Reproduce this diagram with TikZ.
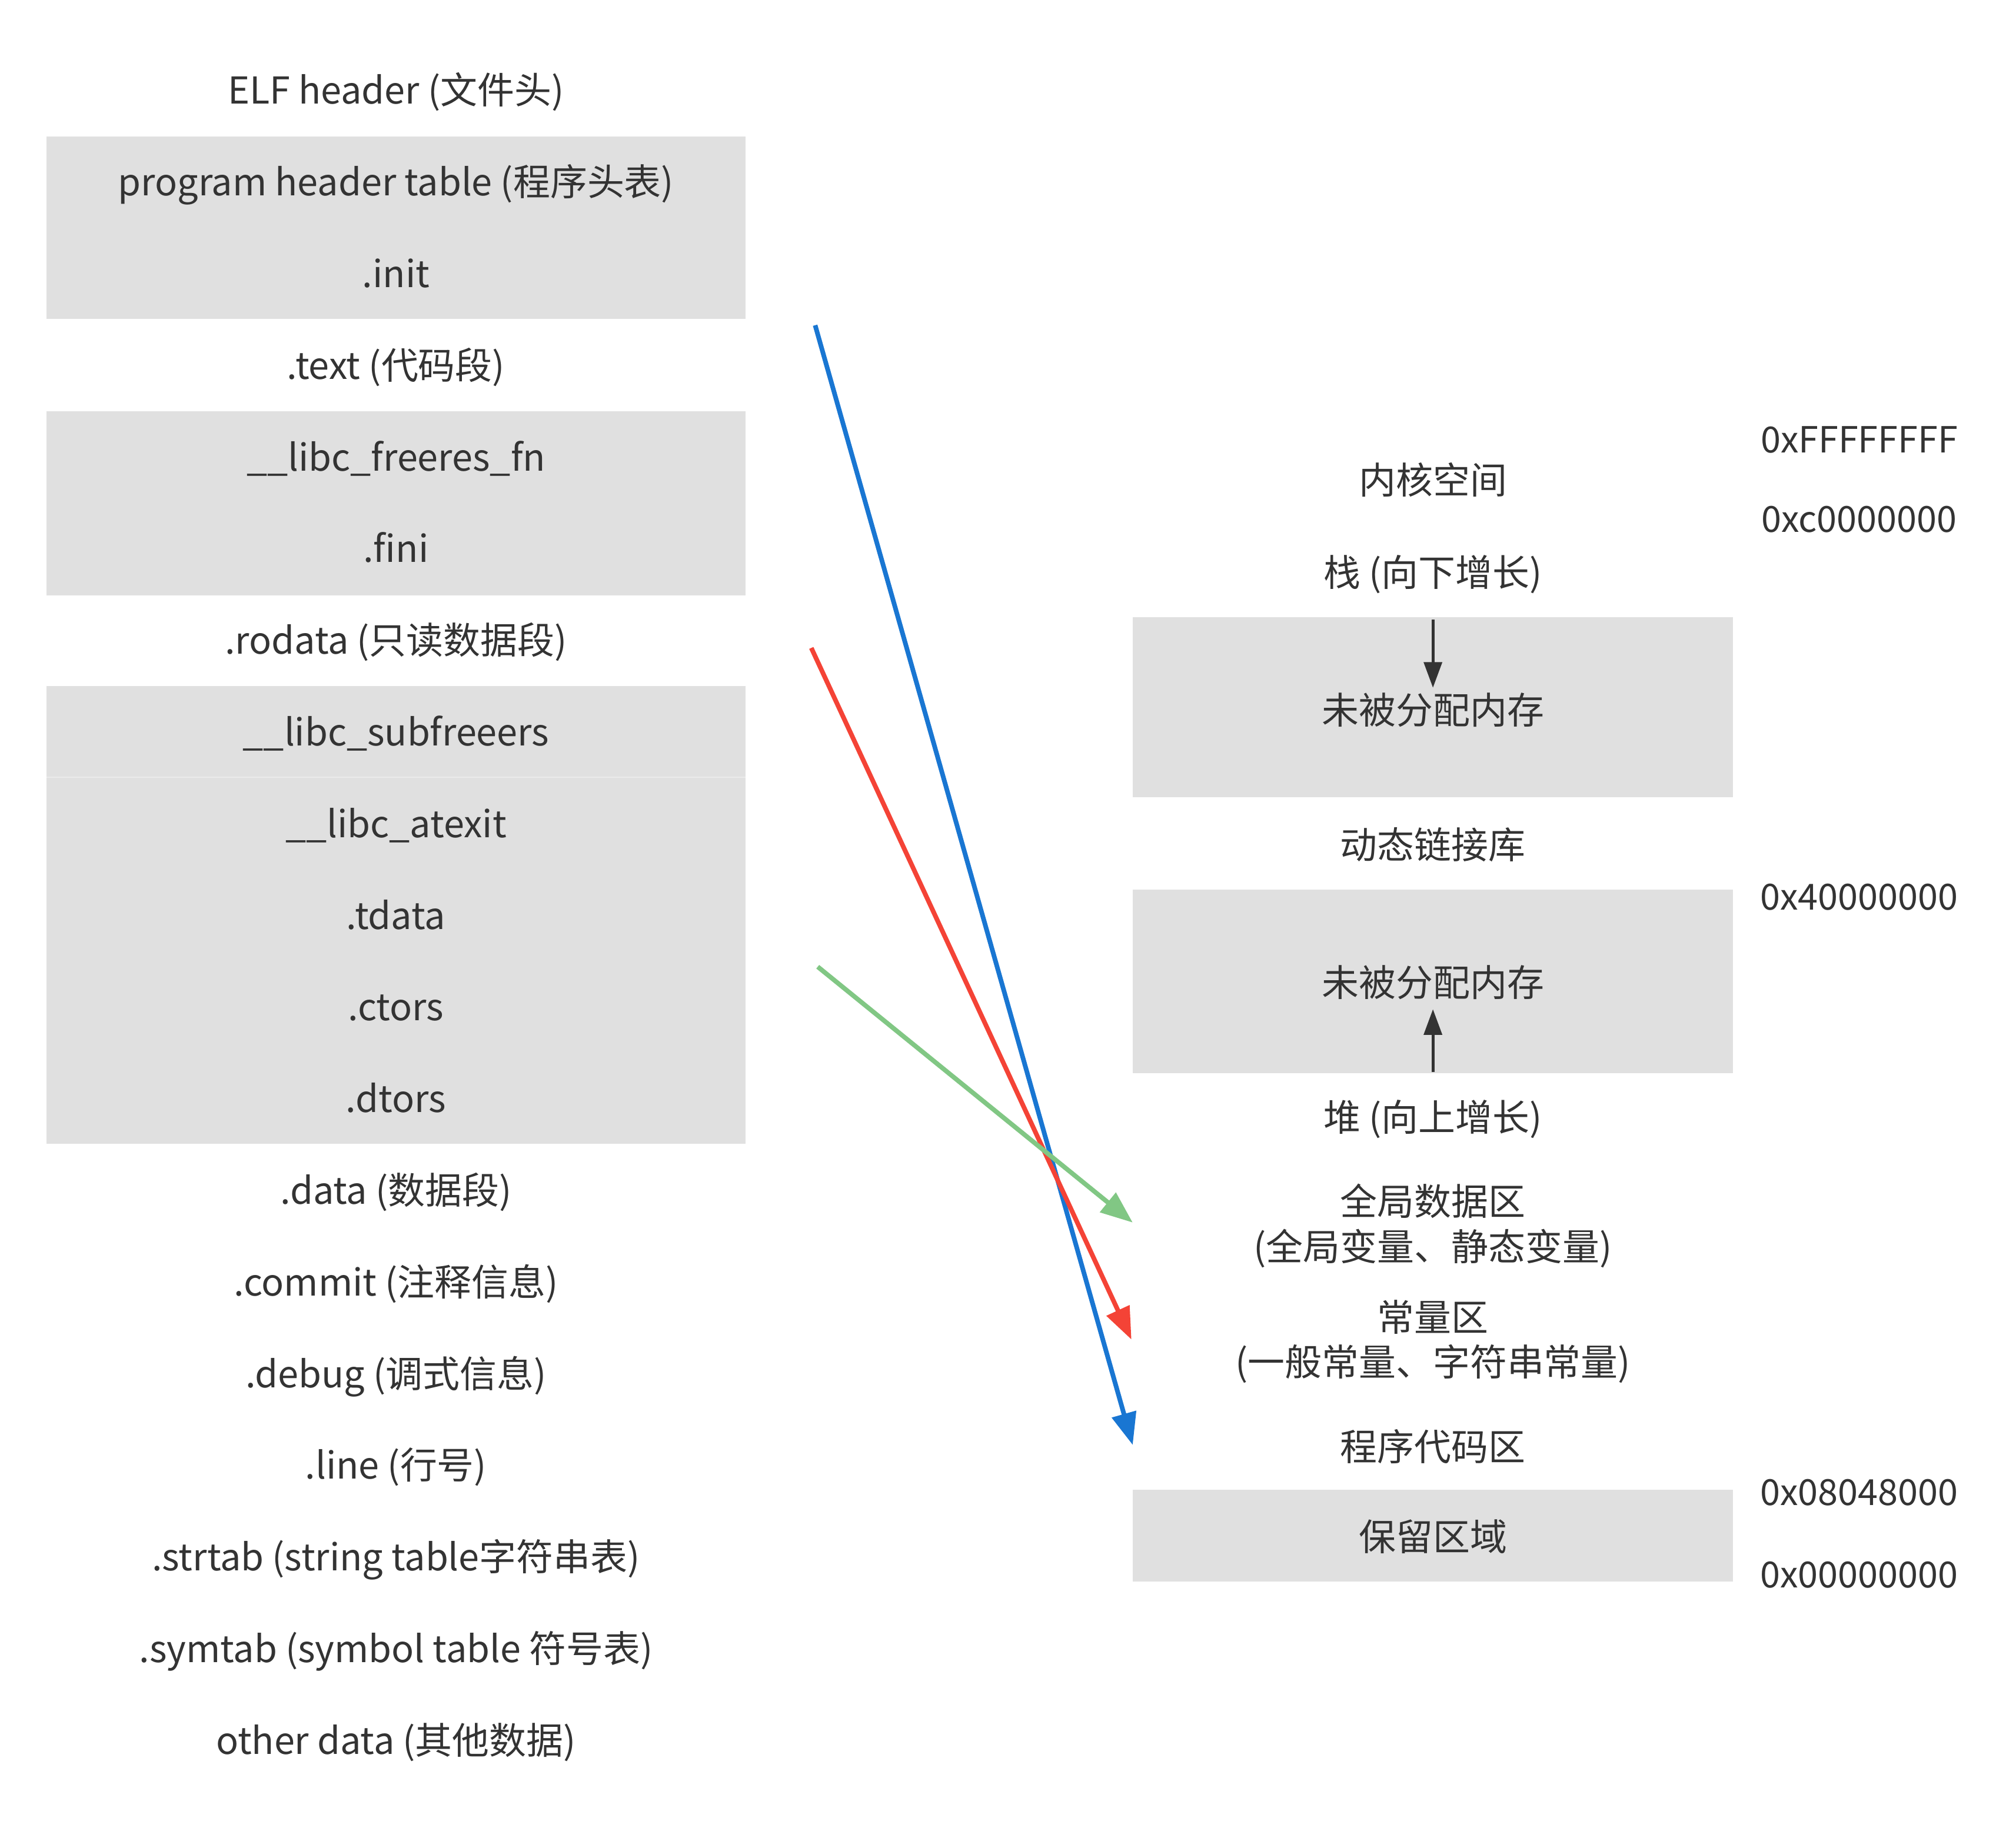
\documentclass[tikz,border=0pt]{standalone}
\usepackage{fontspec}
\setmainfont{Noto Sans CJK SC}
\usetikzlibrary{arrows.meta}
\definecolor{txt}{HTML}{333333}
\definecolor{boxgray}{HTML}{E0E0E0}
\definecolor{sepgray}{HTML}{EBEBEB}
\definecolor{ablue}{HTML}{1976D2}
\definecolor{ared}{HTML}{F44336}
\definecolor{agreen}{HTML}{81C784}
\begin{document}
\begin{tikzpicture}[x=1pt,y=-1pt,
  lbl/.style={text=txt,font=\fontsize{28.8}{35}\selectfont,inner sep=0pt,text height=27.5pt,text depth=7.5pt},
  hex/.style={lbl,font=\fontsize{28}{35}\selectfont},
  lbl2/.style={text=txt,font=\fontsize{28.8}{35}\selectfont,inner sep=0pt,align=center},
  rcol/.style={minimum width=467pt},
  segbox/.style={fill=boxgray},
  maparrow/.style={line width=3.6pt,-{Triangle[length=25pt,width=19pt]}},
  growarrow/.style={draw=txt,line width=2.4pt,-{Triangle[length=20pt,width=14pt]},color=txt}]
\useasboundingbox (0,0) rectangle (1568,1424);
% left boxes
\fill[segbox] (36,106) rectangle (580,248);
\fill[segbox] (36,320) rectangle (580,463);
\fill[segbox] (36,533.5) rectangle (580,889.6);
\draw[sepgray,line width=0.8pt] (36,604.5) -- (580,604.5);
% left labels
\node[lbl] (elf)    at (308,71)    {ELF header (文件头)};
\node[lbl] (pht)    at (308,142.3) {program header table (程序头表)};
\node[lbl] (init)   at (308,213.6) {.init};
\node[lbl] (text)   at (308,284.9) {.text (代码段)};
\node[lbl] (frfn)   at (308,356.2) {\_\_libc\_freeres\_fn};
\node[lbl] (fini)   at (308,427.5) {.fini};
\node[lbl] (rodata) at (308,498.8) {.rodata (只读数据段)};
\node[lbl] (subfr)  at (308,570.1) {\_\_libc\_subfreeers};
\node[lbl] (atexit) at (308,641.4) {\_\_libc\_atexit};
\node[lbl] (tdata)  at (308,712.7) {.tdata};
\node[lbl] (ctors)  at (308,784)   {.ctors};
\node[lbl] (dtors)  at (308,855.3) {.dtors};
\node[lbl] (data)   at (308,926.6) {.data (数据段)};
\node[lbl] (commit) at (308,997.9) {.commit (注释信息)};
\node[lbl] (debug)  at (308,1069.2) {.debug (调式信息)};
\node[lbl] (line)   at (308,1140.5) {.line (行号)};
\node[lbl] (strtab) at (308,1211.8) {.strtab (string table字符串表)};
\node[lbl] (symtab) at (308,1283.1) {.symtab (symbol table 符号表)};
\node[lbl] (other)  at (308,1354.4) {other data (其他数据)};
% right boxes
\fill[segbox] (881,480) rectangle (1348,620);
\fill[segbox] (881,692) rectangle (1348,835);
\fill[segbox] (881,1159) rectangle (1348,1230);
% right labels
\node[lbl,rcol] (kernel) at (1114.5,374) {内核空间};
\node[lbl,rcol] (stack)  at (1114.5,446) {栈 (向下增长)};
\node[lbl,rcol] (free1)  at (1114.5,553) {未被分配内存};
\node[lbl,rcol] (dyn)    at (1114.5,658) {动态链接库};
\node[lbl,rcol] (free2)  at (1114.5,765) {未被分配内存};
\node[lbl,rcol] (heap)   at (1114.5,870) {堆 (向上增长)};
\node[lbl2,rcol] (glob)  at (1114.5,953.5) {全局数据区\\(全局变量、静态变量)};
\node[lbl2,rcol] (const) at (1114.5,1043.5) {常量区\\(一般常量、字符串常量)};
\node[lbl,rcol] (code)   at (1114.5,1126) {程序代码区};
\node[lbl,rcol] (resv)   at (1114.5,1196) {保留区域};
% addresses
\node[hex] (a1) at (1446,342)  {0xFFFFFFFF};
\node[hex] (a2) at (1446,404)  {0xc0000000};
\node[hex] (a3) at (1446,698)  {0x40000000};
\node[hex] (a4) at (1446,1161) {0x08048000};
\node[hex] (a5) at (1446,1225) {0x00000000};
% growth arrows
\coordinate (stacktop) at (1114.5,482);
\coordinate (stacktip) at (1114.5,535);
\coordinate (heapbot) at (1114.5,834);
\coordinate (heaptip) at (1114.5,785);
\draw[growarrow] (stacktop) -- (stacktip);
\draw[growarrow] (heapbot) -- (heaptip);
% mapping arrows
\coordinate (textout) at (634,253);
\coordinate (rodataout) at (631,504);
\coordinate (dataout) at (636,752);
\coordinate (codein) at (881,1124);
\coordinate (constin) at (880,1042);
\coordinate (globin) at (881,951);
\draw[maparrow,ablue] (textout) -- (codein);
\draw[maparrow,ared] (rodataout) -- (constin);
\draw[maparrow,agreen] (dataout) -- (globin);
\end{tikzpicture}
\end{document}
